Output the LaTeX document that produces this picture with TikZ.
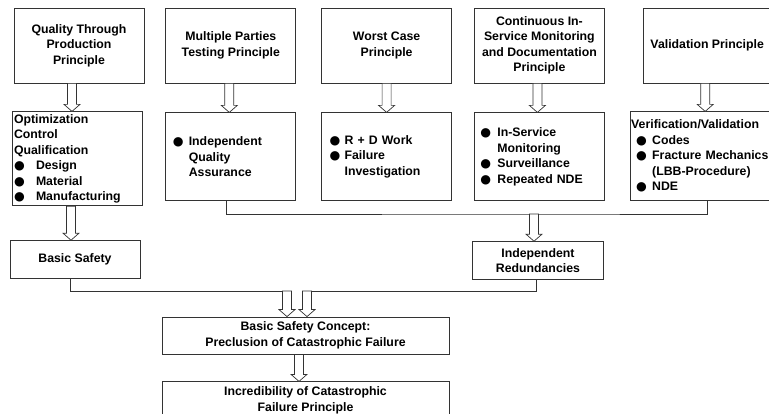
\documentclass[tikz,border=0pt]{standalone}
\usepackage{fontspec}
\setmainfont{Liberation Sans}
\newfontfamily\bulfont{DejaVu Sans}
\usetikzlibrary{calc,positioning}
\tikzset{
  box/.style={draw=black!80, line width=0.8pt, align=center, inner sep=1pt},
  princ/.style={box, minimum width=130pt, minimum height=75pt},
  list/.style={box, align=left, minimum height=88pt, inner ysep=0pt},
  result/.style={box, minimum width=130pt, minimum height=38pt},
  concept/.style={box, minimum width=287pt, minimum height=37pt},
  link/.style={draw=black!80, line width=0.8pt},
  hollow/.style={draw=black!80, fill=white, line width=0.7pt, line join=miter}
}
\newcommand{\bul}[1][16pt]{\makebox[#1][l]{\bulfont ●}}
\newcommand{\bulskip}[1][16pt]{\hspace*{#1}}
\newcommand{\harrow}[2]{%
  \draw[hollow] let \p1=(#1), \p2=(#2) in
    (\x1-4.5pt,\y1) -- (\x1+4.5pt,\y1) -- (\x1+4.5pt,\y2+7pt) -- (\x1+8pt,\y2+7pt)
    -- (\x1,\y2) -- (\x1-8pt,\y2+7pt) -- (\x1-4.5pt,\y2+7pt) -- cycle;}

\begin{document}
\begin{tikzpicture}[x=1pt, y=-1pt, font=\fontsize{12.3}{15.5}\selectfont\bfseries]
  \useasboundingbox (0,0) rectangle (769,414);

  % principles
  \node[princ] (p1) at (79,45.5) {Quality Through\\Production\\Principle};
  \node[princ, right=21pt of p1] (p2) {Multiple Parties\\Testing Principle};
  \node[princ, right=25pt of p2] (p3) {Worst Case\\Principle};
  \node[princ, right=22pt of p3] (p4) {Continuous In-\\Service Monitoring\\and Documentation\\Principle};
  \node[princ, right=38pt of p4, minimum width=128pt] (p5) {Validation Principle};

  % measures
  \node[list, below=28pt of p1, xshift=-2pt, text width=126pt, inner xsep=2pt, minimum height=94pt] (s1)
    {Optimization\\Control\\Qualification\\\bul[22pt]Design\\\bul[22pt]Material\\\bul[22pt]Manufacturing};
  \node[list, below=29pt of p2, text width=116pt, inner xsep=7pt] (s2)
    {\bul Independent\\\bulskip Quality\\\bulskip Assurance};
  \node[list, below=29pt of p3, text width=114pt, inner xsep=8pt] (s3)
    {\bul[15pt]R + D Work\\\bul[15pt]Failure\\\bulskip[15pt]Investigation};
  \node[list, below=29pt of p4, text width=118pt, inner xsep=6pt] (s4)
    {\bul[17pt]In-Service\\\bulskip[17pt]Monitoring\\\bul[17pt]Surveillance\\\bul[17pt]Repeated NDE};
  \node[list, below=28pt of p5, xshift=-6.5pt, text width=139pt, inner xsep=1pt, minimum height=89pt] (s5)
    {Verification/Validation\\\hspace*{5pt}\bul Codes\\\hspace*{5pt}\bul Fracture Mechanics\\\hspace*{21pt}(LBB-Procedure)\\\hspace*{5pt}\bul NDE};

  \harrow{[xshift=-7pt]p1.south}{s1.north}
  \harrow{[xshift=-1.5pt]p2.south}{s2.north}
  \harrow{p3.south}{s3.north}
  \harrow{[xshift=-2pt]p4.south}{s4.north}
  \harrow{[xshift=-2pt]p5.south}{s5.north}

  % safety levels
  \node[result, below=34pt of s1, xshift=-2pt] (bs) {Basic Safety};
  \node[result, below=40pt of s4, xshift=-1.5pt, minimum width=131pt] (ir) {Independent\\Redundancies};
  \node[concept] (bsc) at (305.5,335.5) {Basic Safety Concept:\\Preclusion of Catastrophic Failure};
  \node[concept, below=27pt of bsc] (icf) {Incredibility of Catastrophic\\Failure Principle};

  \coordinate (bus) at (534,214);
  \draw[link] ([xshift=-4pt]s2.south) |- (bus) -| ([xshift=6.5pt]s5.south);
  \harrow{bus}{ir.north}
  \harrow{[xshift=-6pt]s1.south}{bs.north}

  \coordinate (jl) at (287,291);
  \coordinate (jr) at (307,291);
  \draw[link] ([xshift=-5pt]bs.south) |- (jl);
  \draw[link] ([xshift=-1.5pt]ir.south) |- (jr);
  \harrow{jl}{bsc.north}
  \harrow{jr}{bsc.north}
  \harrow{[xshift=-6.5pt]bsc.south}{icf.north}
\end{tikzpicture}
\end{document}
